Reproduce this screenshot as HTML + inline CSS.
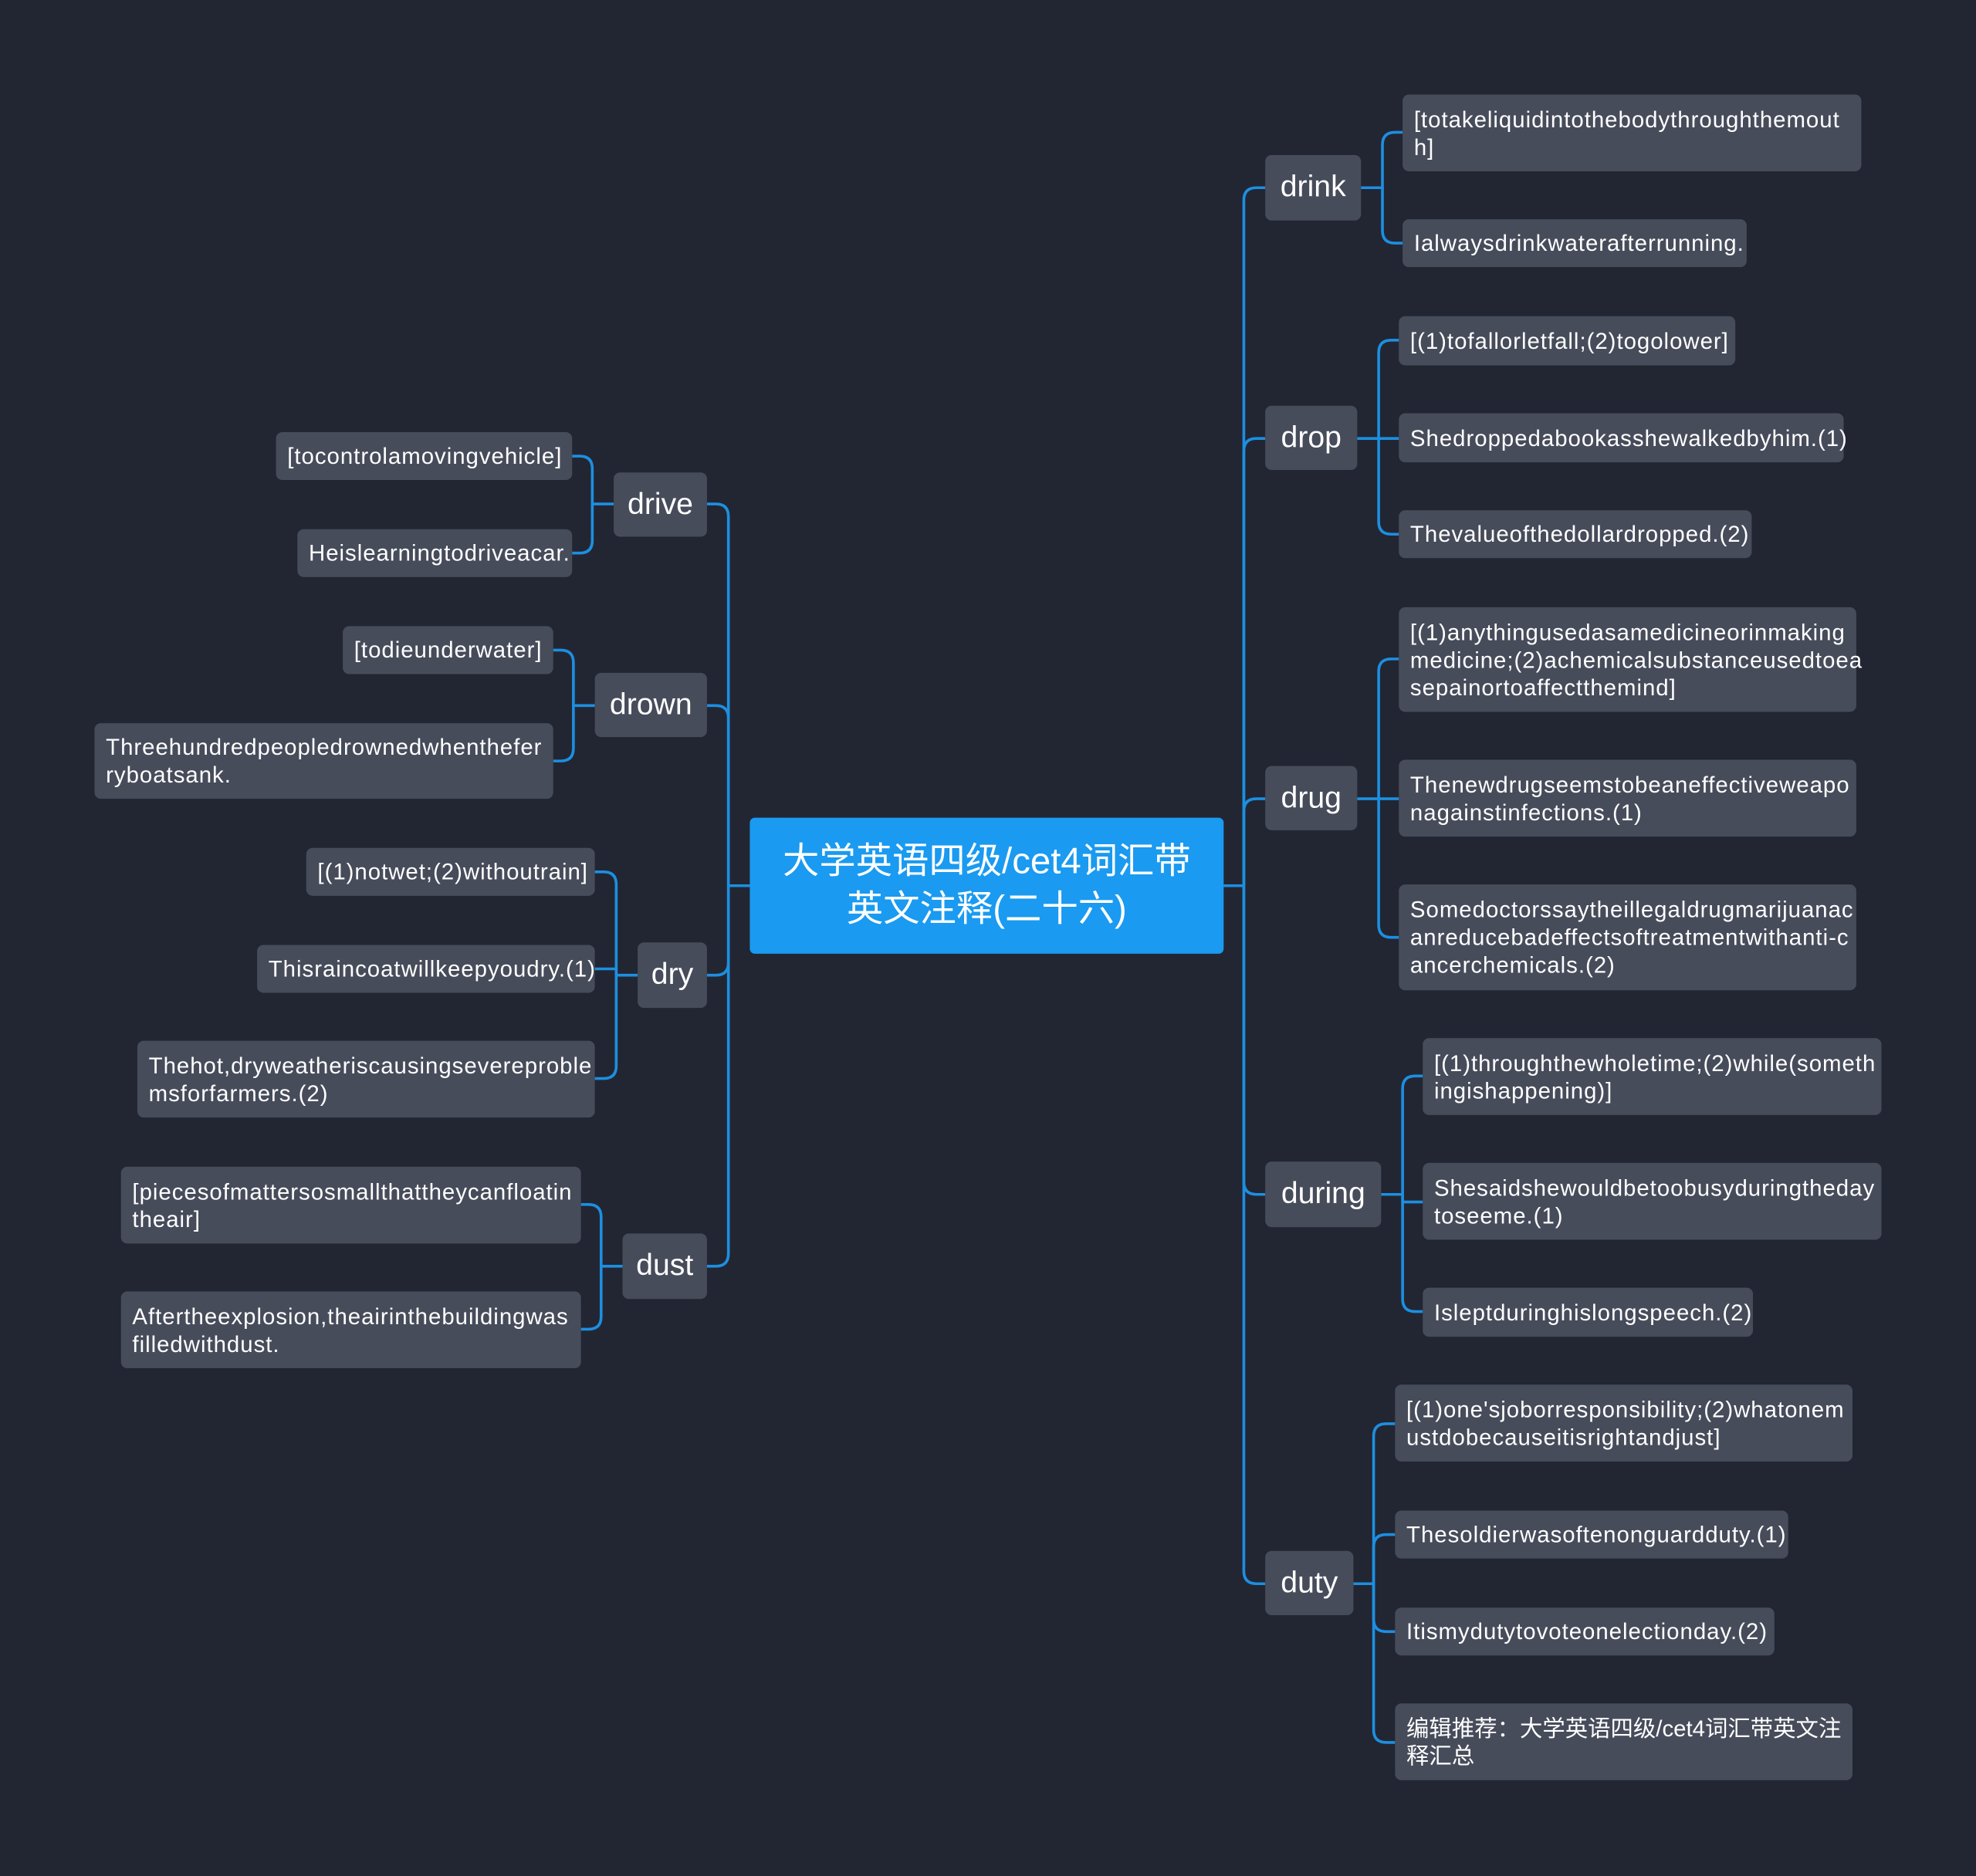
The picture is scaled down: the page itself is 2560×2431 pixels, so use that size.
<!DOCTYPE html>
<html><head><meta charset="utf-8"><style>
html,body{margin:0;padding:0;background:#222633;}
#wrap{position:relative;width:1568px;height:1489px;transform:scale(1.63265);transform-origin:0 0;background:#222633;overflow:hidden;font-family:"Liberation Sans","Noto Sans CJK SC",sans-serif;}
.n{position:absolute;box-sizing:border-box;background:#474c5b;color:#fff;border-radius:5px;display:flex;align-items:center;white-space:nowrap;}
.l{font-size:18px;line-height:22px;padding-left:9px;letter-spacing:0.6px;}
.m{font-size:24px;justify-content:center;}
.c{background:#1a9af0;font-size:29px;line-height:38px;justify-content:center;text-align:center;border-radius:4px;}
svg{position:absolute;left:0;top:0;}
</style></head><body><div id="wrap">
<svg width="1568" height="1489" fill="none" stroke="#1d8fe0" stroke-width="2.2">
<path d="M971 703 H987"/><path d="M595 703 H578"/>
<path d="M987 703 V159 Q987 149 997 149 H1004"/>
<path d="M987 703 V358 Q987 348 997 348 H1004"/>
<path d="M987 703 V644 Q987 634 997 634 H1004"/>
<path d="M987 703 V938 Q987 948 997 948 H1004"/>
<path d="M987 703 V1247 Q987 1257 997 1257 H1004"/>
<path d="M578 703 V410 Q578 400 568 400 H561"/>
<path d="M578 703 V570 Q578 560 568 560 H561"/>
<path d="M578 703 V764 Q578 774 568 774 H561"/>
<path d="M578 703 V995 Q578 1005 568 1005 H561"/>
<path d="M1080 149 H1097 V115 Q1097 105 1107 105 H1113"/>
<path d="M1097 149 V183 Q1097 193 1107 193 H1113"/>
<path d="M1077 348 H1094 V280 Q1094 270 1104 270 H1110"/>
<path d="M1094 348 H1110"/>
<path d="M1094 348 V414 Q1094 424 1104 424 H1110"/>
<path d="M1077 634 H1094 V533 Q1094 523 1104 523 H1110"/>
<path d="M1094 634 H1110"/>
<path d="M1094 634 V734 Q1094 744 1104 744 H1110"/>
<path d="M1096 948 H1113 V864 Q1113 854 1123 854 H1129"/>
<path d="M1113 948 V954 H1129"/>
<path d="M1113 948 V1031 Q1113 1041 1123 1041 H1129"/>
<path d="M1074 1257 H1090 V1140 Q1090 1130 1100 1130 H1107"/>
<path d="M1090 1257 V1228 Q1090 1218 1100 1218 H1107"/>
<path d="M1090 1257 V1285 Q1090 1295 1100 1295 H1107"/>
<path d="M1090 1257 V1373 Q1090 1383 1100 1383 H1107"/>
<path d="M487 400 H470 V372 Q470 362 460 362 H454"/>
<path d="M470 400 V429 Q470 439 460 439 H454"/>
<path d="M472 560 H455 V526 Q455 516 445 516 H439"/>
<path d="M455 560 V594 Q455 604 445 604 H439"/>
<path d="M506 774 H489 V702 Q489 692 479 692 H472"/>
<path d="M489 774 V769 H472"/>
<path d="M489 774 V846 Q489 856 479 856 H472"/>
<path d="M494 1005 H477 V966 Q477 956 467 956 H461"/>
<path d="M477 1005 V1045 Q477 1055 467 1055 H461"/>
</svg>

<div class="n c" style="left:595px;top:649px;width:376px;height:108px;">大学英语四级/cet4词汇带<br>英文注释(二十六)</div>

<div class="n m" style="left:1004px;top:123px;width:76px;height:52px;">drink</div>
<div class="n m" style="left:1004px;top:322px;width:73px;height:51px;">drop</div>
<div class="n m" style="left:1004px;top:608px;width:73px;height:51px;">drug</div>
<div class="n m" style="left:1004px;top:922px;width:92px;height:52px;">during</div>
<div class="n m" style="left:1004px;top:1231px;width:70px;height:51px;">duty</div>

<div class="n m" style="left:487px;top:375px;width:74px;height:51px;">drive</div>
<div class="n m" style="left:472px;top:534px;width:89px;height:51px;">drown</div>
<div class="n m" style="left:506px;top:748px;width:55px;height:52px;">dry</div>
<div class="n m" style="left:494px;top:979px;width:67px;height:52px;">dust</div>

<div class="n l" style="left:1113px;top:75px;width:364px;height:61px;">[totakeliquidintothebodythroughthemout<br>h]</div>
<div class="n l" style="left:1113px;top:174px;width:273px;height:38px;">Ialwaysdrinkwaterafterrunning.</div>

<div class="n l" style="left:1110px;top:251px;width:267px;height:39px;">[(1)tofallorletfall;(2)togolower]</div>
<div class="n l" style="left:1110px;top:328px;width:353px;height:39px;">Shedroppedabookasshewalkedbyhim.(1)</div>
<div class="n l" style="left:1110px;top:405px;width:280px;height:38px;">Thevalueofthedollardropped.(2)</div>

<div class="n l" style="left:1110px;top:482px;width:363px;height:83px;">[(1)anythingusedasamedicineorinmaking<br>medicine;(2)achemicalsubstanceusedtoea<br>sepainortoaffectthemind]</div>
<div class="n l" style="left:1110px;top:603px;width:363px;height:61px;">Thenewdrugseemstobeaneffectiveweapo<br>nagainstinfections.(1)</div>
<div class="n l" style="left:1110px;top:702px;width:363px;height:84px;">Somedoctorssaytheillegaldrugmarijuanac<br>anreducebadeffectsoftreatmentwithanti-c<br>ancerchemicals.(2)</div>

<div class="n l" style="left:1129px;top:824px;width:364px;height:61px;">[(1)throughthewholetime;(2)while(someth<br>ingishappening)]</div>
<div class="n l" style="left:1129px;top:923px;width:364px;height:61px;">Shesaidshewouldbetoobusyduringtheday<br>toseeme.(1)</div>
<div class="n l" style="left:1129px;top:1022px;width:262px;height:39px;">Isleptduringhislongspeech.(2)</div>

<div class="n l" style="left:1107px;top:1099px;width:363px;height:61px;">[(1)one'sjoborresponsibility;(2)whatonem<br>ustdobecauseitisrightandjust]</div>
<div class="n l" style="left:1107px;top:1199px;width:312px;height:38px;">Thesoldierwasoftenonguardduty.(1)</div>
<div class="n l" style="left:1107px;top:1276px;width:301px;height:38px;">Itismydutytovoteonelectionday.(2)</div>
<div class="n l" style="left:1107px;top:1352px;width:363px;height:61px;letter-spacing:0;">编辑推荐：大学英语四级/cet4词汇带英文注<br>释汇总</div>

<div class="n l" style="left:219px;top:343px;width:235px;height:38px;">[tocontrolamovingvehicle]</div>
<div class="n l" style="left:236px;top:420px;width:218px;height:38px;">Heislearningtodriveacar.</div>

<div class="n l" style="left:272px;top:497px;width:167px;height:38px;">[todieunderwater]</div>
<div class="n l" style="left:75px;top:574px;width:364px;height:60px;">Threehundredpeopledrownedwhenthefer<br>ryboatsank.</div>

<div class="n l" style="left:243px;top:673px;width:229px;height:38px;">[(1)notwet;(2)withoutrain]</div>
<div class="n l" style="left:204px;top:750px;width:268px;height:38px;">Thisraincoatwillkeepyoudry.(1)</div>
<div class="n l" style="left:109px;top:826px;width:363px;height:61px;">Thehot,dryweatheriscausingsevereproble<br>msforfarmers.(2)</div>

<div class="n l" style="left:96px;top:926px;width:365px;height:61px;">[piecesofmattersosmallthattheycanfloatin<br>theair]</div>
<div class="n l" style="left:96px;top:1025px;width:365px;height:61px;">Aftertheexplosion,theairinthebuildingwas<br>filledwithdust.</div>
</div></body></html>
